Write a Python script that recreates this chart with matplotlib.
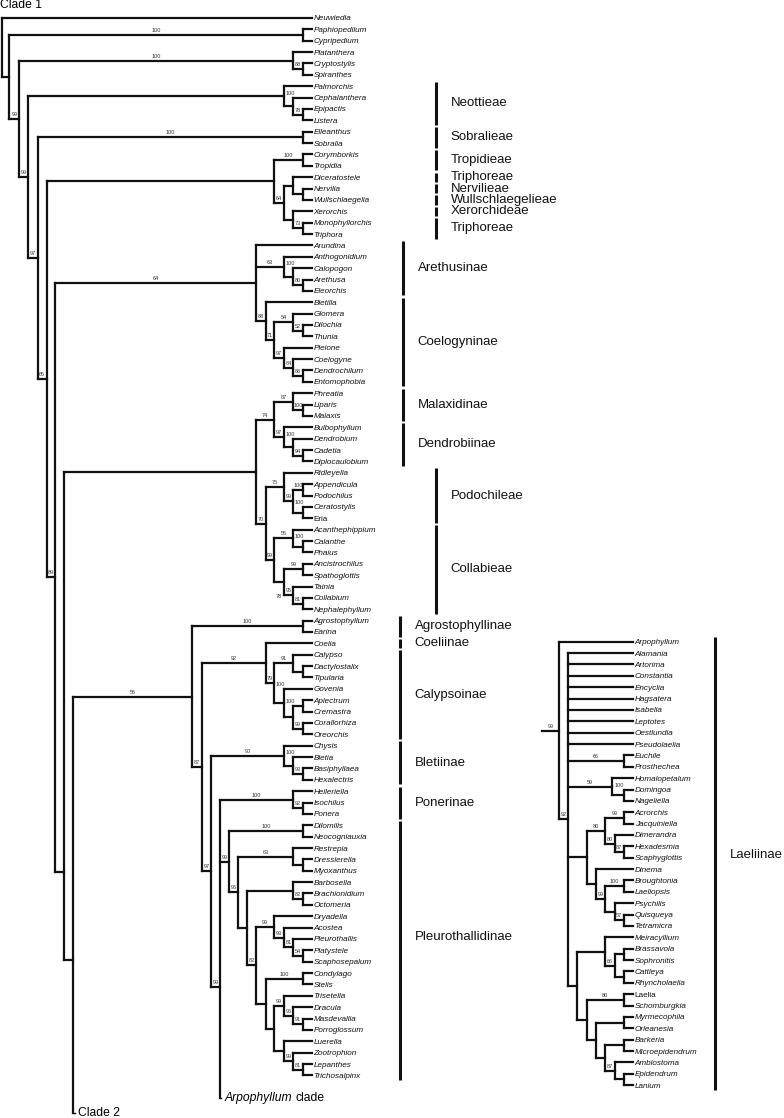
import matplotlib
matplotlib.use('Agg')
import matplotlib.pyplot as plt
from matplotlib.collections import LineCollection

plt.rcParams['font.family'] = ['Liberation Sans', 'DejaVu Sans']


def clade(x, sup, *kids, lab='mid', at=None):
    # x = node depth on the page, sup = bootstrap support, at = fixed slot
    return {'x': x, 'sup': sup, 'kids': list(kids), 'lab': lab, 'at': at}


def stub(name, at):
    return {'stub': name, 'at': at}


# ---------------- data: left tree (Clade 1) ----------------
paphio = clade(302.7, '100', 'Paphiopedilum', 'Cypripedium')
orchidoid = clade(293.3, '100', 'Platanthera', clade(302.7, '88', 'Cryptostylis', 'Spiranthes'))
neottieae = clade(284, None, 'Palmorchis',
                  clade(293.3, '100', 'Cephalanthera',
                        clade(302.7, '78', 'Epipactis', 'Listera'), lab='top'))
sobralieae = clade(302.7, '100', 'Elleanthus', 'Sobralia')
tropidieae = clade(274.3, None,
                   clade(302.7, '100', 'Corymborkis', 'Tropidia'),
                   clade(284, '64',
                         clade(293.3, None, 'Diceratostele',
                               clade(302.7, None, 'Nervilia', 'Wullschlaegelia')),
                         clade(293.3, None, 'Xerorchis',
                               clade(302.7, '73', 'Monophyllorchis', 'Triphora'))))
arethuseae = clade(256, '64', 'Arundina',
                   clade(284, '63', 'Anthogonidium',
                         clade(293.3, '100', 'Calopogon',
                               clade(302.7, '80', 'Arethusa', 'Eleorchis'), lab='top')),
                   clade(265.7, '88', 'Bletilla',
                         clade(274.3, '71',
                               clade(293.3, '54', 'Glomera',
                                     clade(302.7, '52', 'Dilochia', 'Thunia')),
                               clade(284, '97', 'Pleione',
                                     clade(293.3, '84', 'Coelogyne',
                                           clade(302.7, '86', 'Dendrochilum', 'Entomophobia'))))))
malaxideae = clade(274.3, '74',
                   clade(293.3, '87', 'Phreatia', clade(302.7, '100', 'Liparis', 'Malaxis')),
                   clade(284, '97', 'Bulbophyllum',
                         clade(293.3, '100', 'Dendrobium',
                               clade(302.7, '94', 'Cadetia', 'Diplocaulobium'), lab='top')))
podochileae = clade(284, '75', 'Ridleyella',
                    clade(293.3, '99',
                          clade(302.7, '100', 'Appendicula', 'Podochilus'),
                          clade(302.7, '100', 'Ceratostylis', 'Eria', lab='top')))
collabieae = clade(274.3, '99',
                   clade(293.3, '56', 'Acanthephippium',
                         clade(302.7, '100', 'Calanthe', 'Phaius', lab='top')),
                   clade(284, '78',
                         clade(302.7, '99', 'Ancistrochilus', 'Spathoglottis'),
                         clade(293.3, '95', 'Tainia',
                               clade(302.7, '81', 'Collabium', 'Nephalephyllum')), lab='bot'))
calypsoinae = clade(265.7, '92', 'Coelia',
                    clade(274.3, '79',
                          clade(293.3, '91', 'Calypso',
                                clade(302.7, None, 'Dactylostalix', 'Tipularia')),
                          clade(284, '100', 'Govenia',
                                clade(293.3, '100',
                                      clade(302.7, None, 'Aplectrum', 'Cremastra'),
                                      clade(302.7, '99', 'Corallorhiza', 'Oreorchis'),
                                      lab='top'), lab='top')))
bletiinae = clade(284, '90', 'Chysis',
                  clade(293.3, '100', 'Bletia',
                        clade(302.7, '93', 'Basiphyllaea', 'Hexalectris'), lab='top'))
ponerinae = clade(293.3, '100', 'Helleriella', clade(302.7, '92', 'Isochilus', 'Ponera'))
pleurothallidinae = clade(
    229.3, '99',
    clade(302.7, '100', 'Dilomilis', 'Neocogniauxia'),
    clade(238.3, '96',
          clade(293.3, '63', 'Restrepia', clade(302.7, None, 'Dresslerella', 'Myoxanthus')),
          clade(247.3, None,
                clade(293.3, None, 'Barbosella',
                      clade(302.7, '82', 'Brachionidium', 'Octomeria')),
                clade(256, '82',
                      clade(274.3, '99', 'Dryadella',
                            clade(284, '93', 'Acostea',
                                  clade(293.3, '81', 'Pleurothallis',
                                        clade(302.7, '54', 'Platystele', 'Scaphosepalum')))),
                      clade(265.7, None,
                            clade(302.7, '100', 'Condylago', 'Stelis'),
                            clade(274.3, None,
                                  clade(284, '99', 'Trisetella',
                                        clade(293.3, '96', 'Dracula',
                                              clade(302.7, '91', 'Masdevallia', 'Porroglossum'))),
                                  clade(284, None, 'Luerella',
                                        clade(293.3, '99', 'Zootrophion',
                                              clade(302.7, '81', 'Lepanthes', 'Trichosalpinx')))))))))

epidendroid = clade(
    192.3, '56',
    clade(302.7, '100', 'Agrostophyllum', 'Earina'),
    clade(201.7, '87', calypsoinae,
          clade(211, '97', bletiinae,
                clade(220, '99', ponerinae, pleurothallidinae,
                      stub('Arpophyllum clade', 95), at=85.2))))

left_tree = clade(
    2, None, 'Neuwiedia',
    clade(9.3, None, paphio,
          clade(19.3, '99', orchidoid,
                clade(28.3, '99', neottieae,
                      clade(37.7, '97', sobralieae,
                            clade(46.7, '65', tropidieae,
                                  clade(55, '89', arethuseae,
                                        clade(64.3, None,
                                              clade(256, None, malaxideae,
                                                    clade(265.7, '70', podochileae, collabieae)),
                                              clade(73.3, None, epidendroid,
                                                    stub('Clade 2', 96.3), at=82.85),
                                              at=75.08))))))))

# ---------------- data: right tree (Arpophyllum clade) ----------------
right_tree = clade(
    559, '99', 'Arpophyllum',
    clade(568.3, '92',
          'Alamania', 'Artorima', 'Constantia', 'Encyclia', 'Hagsatera',
          'Isabelia', 'Leptotes', 'Oestlundia', 'Pseudolaelia',
          clade(624, '66', 'Euchile', 'Prosthechea'),
          clade(611.7, '59', 'Homalopetalum', clade(624, '100', 'Domingoa', 'Nageliella', lab='top')),
          clade(586.7, None,
                clade(605.3, '80',
                      clade(624, '99', 'Acrorchis', 'Jacquiniella'),
                      clade(614.7, '80', 'Dimerandra',
                            clade(624, '87', 'Hexadesmia', 'Scaphyglottis'))),
                clade(596, None, 'Dinema',
                      clade(605.3, '99',
                            clade(624, '100', 'Broughtonia', 'Laeliopsis'),
                            clade(614.7, None, 'Psychilis',
                                  clade(624, '57', 'Quisqueya', 'Tetramicra'))))),
          clade(577.3, None,
                clade(605.3, None, 'Meiracyllium',
                      clade(614.7, '66',
                            clade(624, None, 'Brassavola', 'Sophronitis'),
                            clade(624, None, 'Cattleya', 'Rhyncholaelia'))),
                clade(586.7, None,
                      clade(624, '80', 'Laelia', 'Schomburgkia'),
                      clade(596, None,
                            clade(624, None, 'Myrmecophila', 'Orleanesia'),
                            clade(605.3, None,
                                  clade(624, None, 'Barkeria', 'Microepidendrum'),
                                  clade(614.7, '87', 'Amblostoma',
                                        clade(624, None, 'Epidendrum', 'Lanium'))))))))

upright = {'Eria', 'Laelia'}

# group name, first leaf, last leaf, bar position, label nudge
groups = [
    ('Neottieae', 'Palmorchis', 'Listera', 436, 0),
    ('Sobralieae', 'Elleanthus', 'Sobralia', 436, 0),
    ('Tropidieae', 'Corymborkis', 'Tropidia', 436, 0),
    ('Triphoreae', 'Diceratostele', 'Diceratostele', 436, 0),
    ('Nervilieae', 'Nervilia', 'Nervilia', 436, 0),
    ('Wullschlaegelieae', 'Wullschlaegelia', 'Wullschlaegelia', 436, 0),
    ('Xerorchideae', 'Xerorchis', 'Xerorchis', 436, 0),
    ('Triphoreae', 'Monophyllorchis', 'Triphora', 436, 0),
    ('Arethusinae', 'Arundina', 'Eleorchis', 403.3, 0),
    ('Coelogyninae', 'Bletilla', 'Entomophobia', 403.3, 0),
    ('Malaxidinae', 'Phreatia', 'Malaxis', 403.3, 0),
    ('Dendrobiinae', 'Bulbophyllum', 'Diplocaulobium', 403.3, 0),
    ('Podochileae', 'Ridleyella', 'Eria', 436, 0),
    ('Collabieae', 'Acanthephippium', 'Nephalephyllum', 436, 0),
    ('Agrostophyllinae', 'Agrostophyllum', 'Earina', 400, 0),
    ('Coeliinae', 'Coelia', 'Coelia', 400, 0),
    ('Calypsoinae', 'Calypso', 'Oreorchis', 400, 0),
    ('Bletiinae', 'Chysis', 'Hexalectris', 400, 0),
    ('Ponerinae', 'Helleriella', 'Ponera', 400, 0),
    ('Pleurothallidinae', 'Dilomilis', 'Trichosalpinx', 400, -13),
    ('Laeliinae', 'Arpophyllum', 'Lanium', 715, -8),
]

# ---------------- drawing ----------------
DY = 11.37
fig = plt.figure(figsize=(7.84, 11.18), dpi=100)
ax = fig.add_axes([0, 0, 1, 1])
ax.set_xlim(0, 784)
ax.set_ylim(1118, 0)
ax.axis('off')

segs = []
leaf_y = {}


def draw(node, px, tree):
    if isinstance(node, str):
        y = tree['y0'] + tree['n'] * DY
        tree['n'] += 1
        leaf_y[node] = y
        segs.append([(px, y), (tree['tip'], y)])
        ax.text(tree['tip'] + 1.6, y, node, fontsize=5.9, va='center_baseline', ha='left',
                style='normal' if node in upright else 'italic', color='#111111')
        return y
    if 'stub' in node:
        y = tree['y0'] + node['at'] * DY
        tree['stubs'].append((px, y, node['stub']))
        return y
    ys = [draw(k, node['x'], tree) for k in node['kids']]
    y = (ys[0] + ys[-1]) / 2 if node['at'] is None else tree['y0'] + node['at'] * DY
    segs.append([(node['x'], ys[0]), (node['x'], ys[-1])])
    segs.append([(px, y), (node['x'], y)])
    if node['sup']:
        mx = (px + node['x']) / 2
        if node['lab'] == 'top':
            lx, ly = mx + 1.5, ys[0] - 4.5
        elif node['lab'] == 'bot':
            lx, ly = mx, ys[-1] + 1
        else:
            lx, ly = mx, y - 4.5
        ax.text(lx, ly, node['sup'], fontsize=4, ha='center', va='center', color='#333333')
    return y


left = {'y0': 18, 'tip': 311.7, 'n': 0, 'stubs': []}
right = {'y0': 641.7, 'tip': 633, 'n': 0, 'stubs': []}
draw(left_tree, left_tree['x'], left)
draw(right_tree, 542.3, right)

ax.add_collection(LineCollection(segs, colors='#111111', linewidths=1.6, capstyle='projecting'))

for px, y, name in left['stubs']:
    ax.plot([px, px + 1.5], [y, y], color='#111111', lw=1.0)
    if name == 'Arpophyllum clade':
        t = ax.text(px + 5, y, 'Arpophyllum', fontsize=8.7, style='italic', va='center', ha='left')
        ax.annotate('clade', xy=(1, 0), xycoords=t, xytext=(2.2, 0), textcoords='offset points',
                    fontsize=8.7, va='bottom', ha='left')
    else:
        ax.text(px + 5, y, name, fontsize=8.7, va='center', ha='left')

ax.text(0.5, 5.5, 'Clade 1', fontsize=8.7, va='center', ha='left')

bars = []
for name, a, b, bx, nudge in groups:
    y1, y2 = leaf_y[a] - 4.6, leaf_y[b] + 4.6
    bars.append([(bx, y1), (bx, y2)])
    ax.text(bx + 14.5, (leaf_y[a] + leaf_y[b]) / 2 + nudge, name, fontsize=9.5,
            va='center', ha='left', color='#111111')
ax.add_collection(LineCollection(bars, colors='#111111', linewidths=2.2, capstyle='butt'))

fig.savefig('out.png', dpi=100)
